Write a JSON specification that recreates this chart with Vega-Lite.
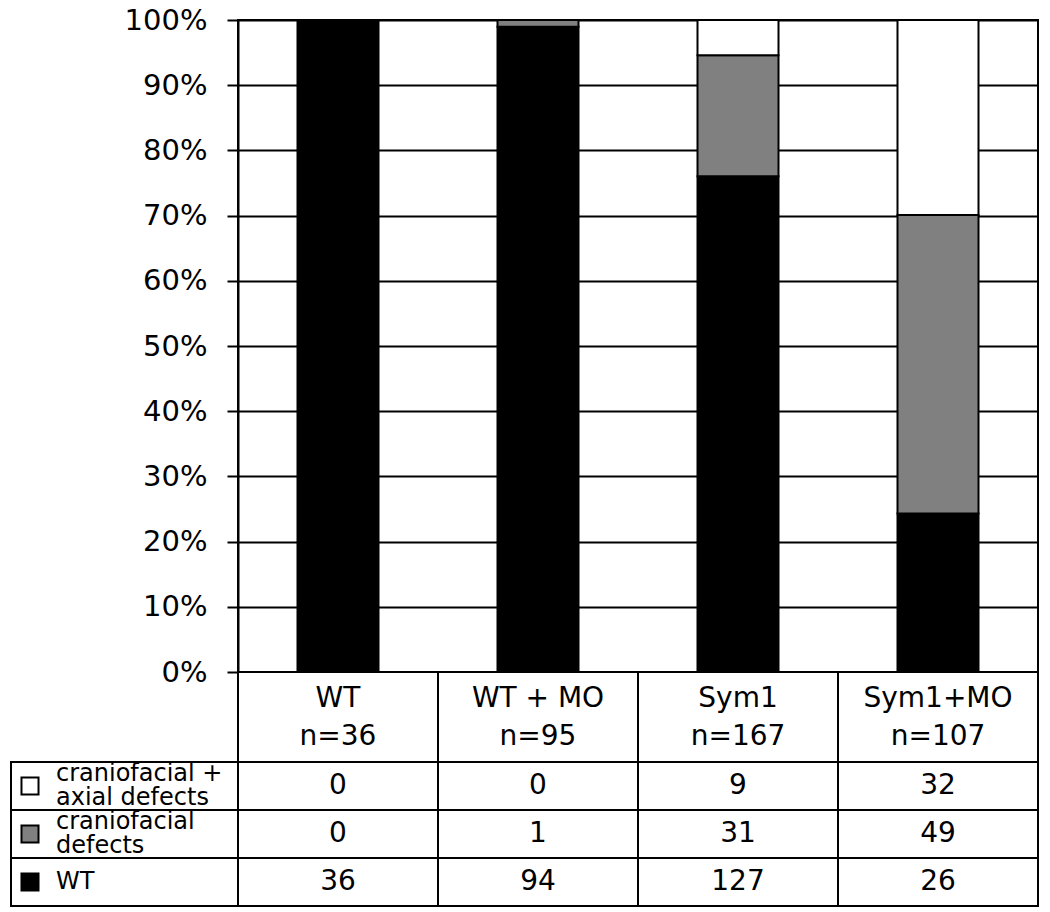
{
  "$schema": "https://vega.github.io/schema/vega-lite/v6.json",
  "padding": {"left": 10, "top": 5, "right": 5, "bottom": 5},
  "background": "white",
  "columns": 2,
  "spacing": 0,
  "bounds": "flush",
  "align": "each",
  "config": {"font": "DejaVu Sans", "view": {"stroke": null}, "text": {"color": "black"}},
  "datasets": {
    "counts": [
      {"group": "WT", "cat": "WT", "ord": 1, "count": 36},
      {"group": "WT", "cat": "craniofacial defects", "ord": 2, "count": 0},
      {"group": "WT", "cat": "craniofacial + axial defects", "ord": 3, "count": 0},
      {"group": "WT + MO", "cat": "WT", "ord": 1, "count": 94},
      {"group": "WT + MO", "cat": "craniofacial defects", "ord": 2, "count": 1},
      {"group": "WT + MO", "cat": "craniofacial + axial defects", "ord": 3, "count": 0},
      {"group": "Sym1", "cat": "WT", "ord": 1, "count": 127},
      {"group": "Sym1", "cat": "craniofacial defects", "ord": 2, "count": 31},
      {"group": "Sym1", "cat": "craniofacial + axial defects", "ord": 3, "count": 9},
      {"group": "Sym1+MO", "cat": "WT", "ord": 1, "count": 26},
      {"group": "Sym1+MO", "cat": "craniofacial defects", "ord": 2, "count": 49},
      {"group": "Sym1+MO", "cat": "craniofacial + axial defects", "ord": 3, "count": 32}
    ],
    "groups": [
      {"group": "WT", "header": "WT\nn=36"},
      {"group": "WT + MO", "header": "WT + MO\nn=95"},
      {"group": "Sym1", "header": "Sym1\nn=167"},
      {"group": "Sym1+MO", "header": "Sym1+MO\nn=107"}
    ],
    "cats": [
      {"cat": "craniofacial + axial defects", "label": "craniofacial +\naxial defects"},
      {"cat": "craniofacial defects", "label": "craniofacial\ndefects"},
      {"cat": "WT", "label": "WT"}
    ]
  },
  "concat": [
    {"width": 227, "height": 652, "data": {"values": []}, "mark": "point"},
    {
      "width": 800,
      "height": 652,
      "data": {"name": "counts"},
      "view": {"stroke": "black", "strokeWidth": 2},
      "mark": {"type": "bar", "stroke": "black", "strokeWidth": 2},
      "encoding": {
        "x": {"field": "group", "type": "nominal", "sort": ["WT", "WT + MO", "Sym1", "Sym1+MO"], "scale": {"paddingInner": 0.595, "paddingOuter": 0.2975}, "axis": null},
        "y": {
          "field": "count", "type": "quantitative", "stack": "normalize",
          "scale": {"domain": [0, 1], "nice": false},
          "axis": {
            "values": [0, 0.1, 0.2, 0.3, 0.4, 0.5, 0.6, 0.7, 0.8, 0.9, 1],
            "format": ".0%", "title": null,
            "labelFontSize": 29, "labelColor": "black", "labelPadding": 20,
            "tickSize": 11, "tickWidth": 2, "tickColor": "black",
            "domainColor": "black", "domainWidth": 2,
            "grid": true, "gridColor": "black", "gridWidth": 2, "gridOpacity": 1
          }
        },
        "fill": {"field": "cat", "type": "nominal", "scale": {"domain": ["craniofacial + axial defects", "craniofacial defects", "WT"], "range": ["white", "#808080", "black"]}, "legend": null},
        "order": {"field": "ord", "type": "quantitative"}
      }
    },
    {"width": 227, "height": 90, "data": {"values": []}, "mark": "point"},
    {
      "width": 800,
      "height": 90,
      "data": {"name": "groups"},
      "encoding": {
        "x": {"field": "group", "type": "nominal", "sort": ["WT", "WT + MO", "Sym1", "Sym1+MO"], "scale": {"paddingInner": 0, "paddingOuter": 0}, "axis": null}
      },
      "layer": [
        {"mark": {"type": "rect", "fill": "white", "stroke": "black", "strokeWidth": 2}},
        {"mark": {"type": "text", "fontSize": 28, "lineHeight": 38, "lineBreak": "\n", "baseline": "middle", "dy": -18, "color": "black"}, "encoding": {"text": {"field": "header"}}}
      ]
    },
    {
      "width": 227,
      "height": 144,
      "data": {"name": "cats"},
      "encoding": {
        "y": {"field": "cat", "type": "nominal", "sort": ["craniofacial + axial defects", "craniofacial defects", "WT"], "scale": {"paddingInner": 0, "paddingOuter": 0}, "axis": null}
      },
      "layer": [
        {"mark": {"type": "rect", "fill": "white", "stroke": "black", "strokeWidth": 2}},
        {
          "mark": {"type": "point", "shape": "square", "filled": true, "size": 290, "stroke": "black", "strokeWidth": 2, "opacity": 1},
          "encoding": {
            "x": {"datum": "symbol", "type": "nominal", "scale": {"type": "point", "domain": ["symbol"], "padding": 0, "align": 0.0837}, "axis": null},
            "fill": {"field": "cat", "type": "nominal", "scale": {"domain": ["craniofacial + axial defects", "craniofacial defects", "WT"], "range": ["white", "#808080", "black"]}, "legend": null}
          }
        },
        {
          "transform": [{"filter": "indexof(datum.label, '\\n') >= 0"}],
          "mark": {"type": "text", "align": "left", "baseline": "middle", "fontSize": 24, "lineHeight": 24, "lineBreak": "\n", "dy": -12, "color": "black"},
          "encoding": {
            "x": {"datum": "label", "type": "nominal", "scale": {"type": "point", "domain": ["label"], "padding": 0, "align": 0.1982}, "axis": null},
            "text": {"field": "label"}
          }
        },
        {
          "transform": [{"filter": "indexof(datum.label, '\\n') < 0"}],
          "mark": {"type": "text", "align": "left", "baseline": "middle", "fontSize": 24, "color": "black"},
          "encoding": {
            "x": {"datum": "label", "type": "nominal", "scale": {"type": "point", "domain": ["label"], "padding": 0, "align": 0.1982}, "axis": null},
            "text": {"field": "label"}
          }
        }
      ],
      "resolve": {"scale": {"x": "independent"}}
    },
    {
      "width": 800,
      "height": 144,
      "data": {"name": "counts"},
      "encoding": {
        "x": {"field": "group", "type": "nominal", "sort": ["WT", "WT + MO", "Sym1", "Sym1+MO"], "scale": {"paddingInner": 0, "paddingOuter": 0}, "axis": null},
        "y": {"field": "cat", "type": "nominal", "sort": ["craniofacial + axial defects", "craniofacial defects", "WT"], "scale": {"paddingInner": 0, "paddingOuter": 0}, "axis": null}
      },
      "layer": [
        {"mark": {"type": "rect", "fill": "white", "stroke": "black", "strokeWidth": 2}},
        {"mark": {"type": "text", "fontSize": 28, "baseline": "middle", "color": "black"}, "encoding": {"text": {"field": "count", "type": "quantitative"}}}
      ]
    }
  ]
}
